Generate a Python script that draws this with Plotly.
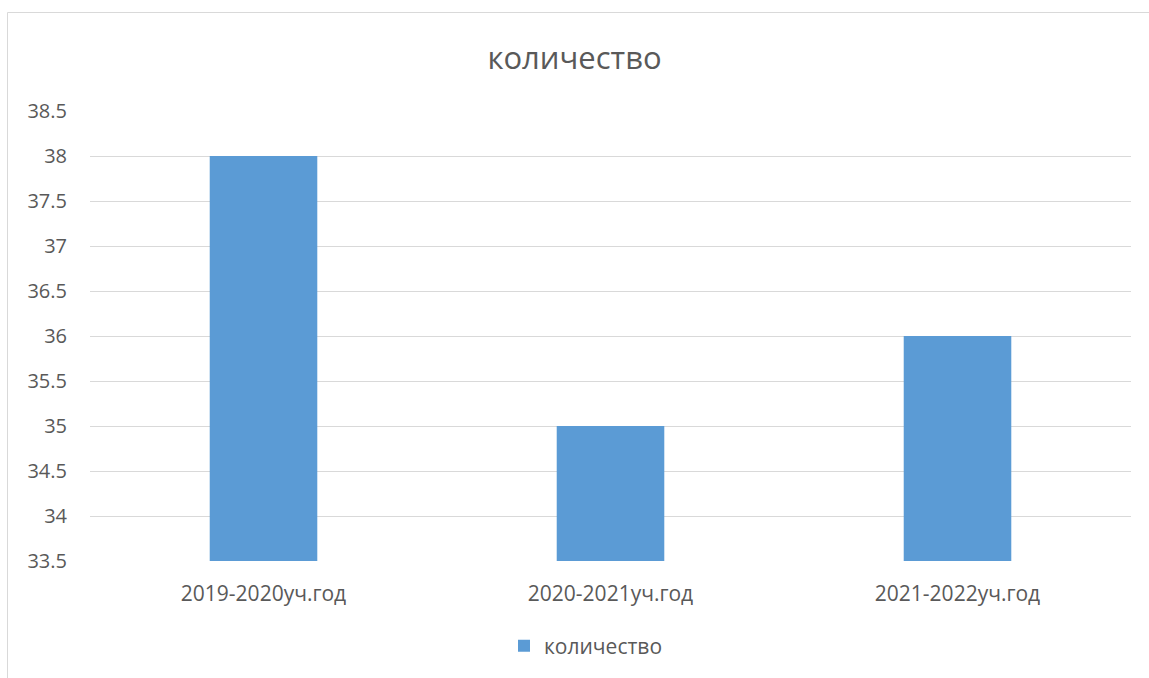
import plotly.graph_objects as go

categories = ["2019-2020уч.год", "2020-2021уч.год", "2021-2022уч.год"]
values = [38, 35, 36]
series_name = "количество"
title_text = "количество"
y_ticks = [33.5, 34, 34.5, 35, 35.5, 36, 36.5, 37, 37.5, 38, 38.5]
y_base = 33.5

W, H = 1149, 678
L, R, T, B = 90, 18, 111, 117
pw, ph = W - L - R, H - T - B

fig = go.Figure()
fig.add_trace(go.Bar(
    x=categories, y=[v - y_base for v in values], base=y_base, name=series_name,
    customdata=values, hovertemplate="%{x}: %{customdata}<extra></extra>",
    marker=dict(color="#5b9bd5", line=dict(width=0)),
    width=0.31,
))

def px_x(x):
    return (x - L) / pw

def px_y(y):
    return (H - B - y) / ph

font = "'Open Sans', Lato, sans-serif"
fig.update_layout(
    width=W, height=H,
    margin=dict(l=L, r=R, t=T, b=B),
    paper_bgcolor="white", plot_bgcolor="white",
    font=dict(family=font, color="#595959", size=20),
    title=dict(text=title_text, x=0.5, xanchor="center", y=1 - 58 / H, yanchor="middle",
               font=dict(size=31, color="#595959", family=font)),
    showlegend=True,
    legend=dict(orientation="h", x=px_x(504), xanchor="left", y=px_y(646), yanchor="middle",
                font=dict(size=21, color="#595959"), itemwidth=30),
    xaxis=dict(showgrid=False, showline=False, ticks="", ticklabelstandoff=18,
               tickfont=dict(size=21, color="#595959")),
    yaxis=dict(range=[33.5, 38.5], tickvals=y_ticks,
               ticktext=[f"{v:g}" for v in y_ticks],
               showgrid=True, gridcolor="#d9d9d9", gridwidth=1,
               zeroline=False, showline=False, ticks="", ticklabelstandoff=22,
               tickfont=dict(size=20, color="#595959")),
    shapes=[
        dict(type="line", xref="paper", yref="paper", x0=px_x(7.5), x1=px_x(1160),
             y0=px_y(12.5), y1=px_y(12.5), line=dict(color="#d9d9d9", width=1)),
        dict(type="line", xref="paper", yref="paper", x0=px_x(7.5), x1=px_x(7.5),
             y0=px_y(12.5), y1=px_y(700), line=dict(color="#d9d9d9", width=1)),
    ],
)

fig.write_html("out.html", config={"displayModeBar": False},
               post_script="document.body.style.margin='0';document.body.style.overflow='hidden';")
